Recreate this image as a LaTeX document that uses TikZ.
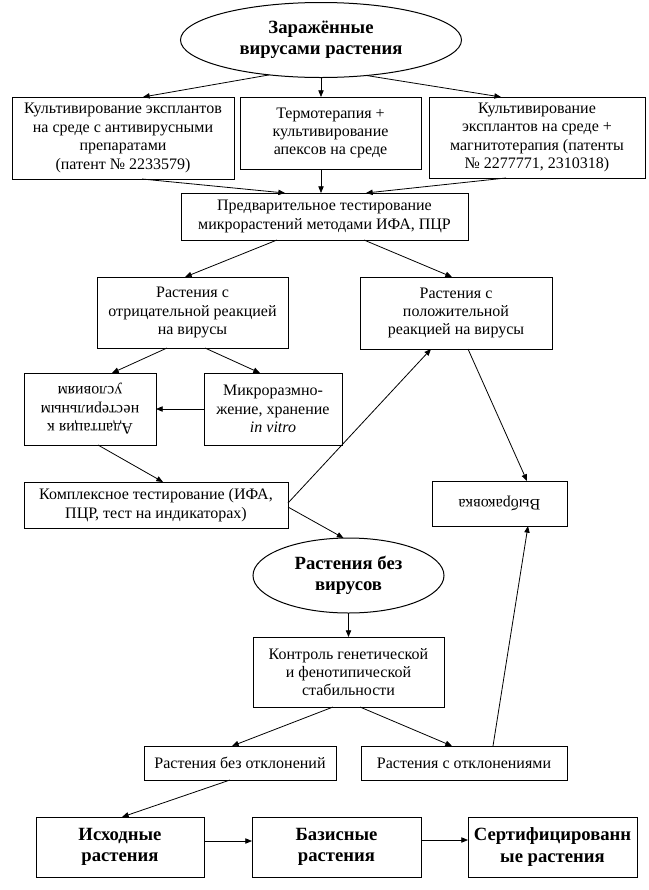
\documentclass[tikz,border=0pt]{standalone}
\usepackage{fontspec}
\setmainfont{Liberation Serif}
\usepackage{graphicx}
\usetikzlibrary{arrows.meta,shapes.geometric,calc}
\begin{document}
\begin{tikzpicture}[x=0.75pt,y=-0.75pt,
  every node/.style={inner sep=0pt, outer sep=0pt},
  sz/.style 2 args={minimum width=#1*0.75pt, minimum height=#2*0.75pt},
  box/.style={draw, line width=0.75pt, rectangle, align=center, font=\fontsize{12}{13.8}\selectfont},
  bbox/.style={box, font=\fontsize{14}{16}\selectfont\bfseries},
  oval/.style={draw, line width=0.75pt, ellipse, align=center, font=\fontsize{14}{16}\selectfont\bfseries},
  arr/.style={line width=0.6pt, -{Triangle[length=5pt,width=4pt]}}]
\useasboundingbox[fill=white] (0,0) rectangle (649,890);

\node[oval, sz={281}{75}] (top) at (321,40) {Заражённые\\вирусами растения};
\node[box, sz={222}{82}] (b1) at (123,138) {Культивирование эксплантов\\на среде с антивирусными\\препаратами\\(патент № 2233579)};
\node[box, sz={181}{72}] (b2) at (330.5,133) {Термотерапия +\\культивирование\\апексов на среде};
\node[box, sz={216}{81}] (b3) at (537,137.5) {Культивирование\\эксплантов на среде +\\магнитотерапия (патенты\\№ 2277771, 2310318)};
\node[box, sz={287}{47}] (pre) at (324.5,216.5) {Предварительное тестирование\\микрорастений методами ИФА, ПЦР};
\node[box, sz={191}{71}] (neg) at (192.5,312.5) {Растения с\\отрицательной реакцией\\на вирусы};
\node[box, sz={192}{72}] (pos) at (456,313) {Растения с\\положительной\\реакцией на вирусы};
\node[box, sz={132}{72}] (adapt) at (90,409) {\rotatebox{180}{\begin{tabular}{@{}c@{}}Адаптация к\\нестерильным\\условиям\end{tabular}}};
\node[box, sz={138}{72}] (micro) at (273,409) {Микроразмно-\\жение, хранение\\\textit{in vitro}};
\node[box, sz={264}{46}] (cmplx) at (156,505) {Комплексное тестирование (ИФА,\\ПЦР, тест на индикаторах)};
\node[box, sz={135}{45}] (vybr) at (499.5,503.5) {\rotatebox{180}{Выбраковка}};
\node[oval, sz={191}{75}] (free) at (348.5,575.5) {Растения без\\вирусов};
\node[box, sz={191}{70}] (ctrl) at (348.5,672) {Контроль генетической\\и фенотипической\\стабильности};
\node[box, sz={192}{34}] (bez) at (240,763) {Растения без отклонений};
\node[box, sz={206}{34}] (sotk) at (464,763) {Растения с отклонениями};
\node[bbox, sz={168}{60}] (isx) at (120,847) {Исходные\\растения};
\node[bbox, sz={169}{60}] (baz) at (336.5,847) {Базисные\\растения};
\node[bbox, sz={169}{60}] (sert) at (552.5,847) {Сертифицированн\\ые растения};

\draw[arr] (top.214) -- ($(b1.north)+(20,0)$);
\draw[arr] (top.south) -- (top.south |- b2.north);
\draw[arr] (top.-38) -- ($(b3.north)+(-36,0)$);
\draw[arr] ($(b1.south)+(19,0)$) -- ($(pre.north)+(-39.5,0)$);
\draw[arr] (b2.south -| top.south) -- (top.south |- pre.north);
\draw[arr] ($(b3.south)+(-31,0)$) -- ($(pre.north)+(41.5,0)$);
\draw[arr] ($(pre.south)+(-47.5,0)$) -- ($(neg.north)+(-7.5,0)$);
\draw[arr] ($(pre.south)+(39.5,0)$) -- ($(pos.north)+(-4,0)$);
\draw[arr] ($(neg.south)+(-25.5,0)$) -- ($(adapt.north)+(22,0)$);
\draw[arr] ($(neg.south)+(12.5,0)$) -- ($(micro.north)+(-13,0)$);
\draw[arr] (micro.west) -- (adapt.east);
\draw[arr] ($(adapt.south)+(8,0)$) -- ($(cmplx.north)+(7,0)$);
\draw[arr] ($(cmplx.east)+(0,-2)$) -- ($(pos.south)+(-25,0)$);
\draw[arr] ($(cmplx.east)+(0,2)$) -- ($(free.north)+(-5,0)$);
\draw[arr] ($(pos.south)+(12,0)$) -- ($(vybr.north)+(27.5,0)$);
\draw[arr] (free.south) -- (ctrl.north);
\draw[arr] ($(ctrl.south)+(-15.5,0)$) -- ($(bez.north)+(-8,0)$);
\draw[arr] ($(ctrl.south)+(11.5,0)$) -- ($(sotk.north)+(-12,0)$);
\draw[arr] ($(sotk.north)+(29,0)$) -- ($(vybr.south)+(28.5,0)$);
\draw[arr] ($(bez.south)+(-10,0)$) -- ($(isx.north)+(2,0)$);
\draw[arr] ($(isx.east)+(0,-6)$) -- ($(baz.west)+(0,-6)$);
\draw[arr] ($(baz.east)+(0,-7)$) -- ($(sert.west)+(0,-7)$);
\end{tikzpicture}
\end{document}
